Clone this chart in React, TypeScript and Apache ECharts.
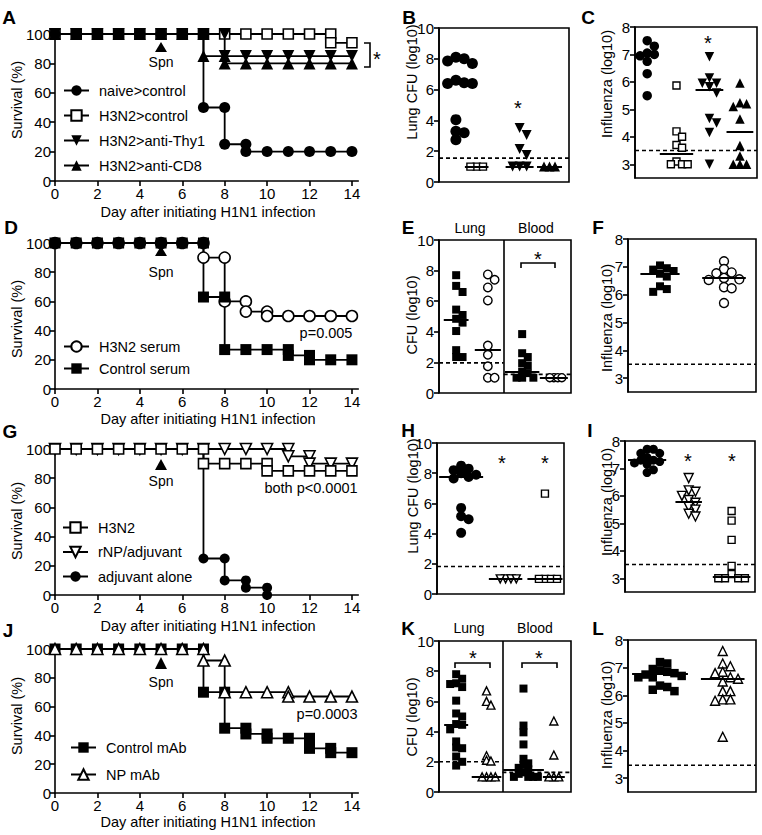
import React, { useEffect, useRef } from "react";
import * as echarts from "echarts";

const FONT = '"Liberation Sans", Arial, Helvetica, sans-serif';

// ---------------- tick values ----------------
const dayTicks = [0, 2, 4, 6, 8, 10, 12, 14];
const survivalTicks = [0, 20, 40, 60, 80, 100];
const cfuTicks = [0, 2, 4, 6, 8, 10];
const fluTicks = [3, 4, 5, 6, 7, 8];

// ---------------- survival curves: [day, % surviving] ----------------
const A_naiveControl = [[0,100],[1,100],[2,100],[3,100],[4,100],[5,100],[6,100],[7,100],[7,50],[8,50],[8,25],[9,25],[9,20],[10,20],[11,20],[12,20],[13,20],[14,20]];
const A_h3n2Control = [[0,100],[1,100],[2,100],[3,100],[4,100],[5,100],[6,100],[7,100],[8,100],[9,100],[10,100],[11,100],[12,100],[13,100],[13,94],[14,94]];
const A_h3n2AntiThy1 = [[0,100],[1,100],[2,100],[3,100],[4,100],[5,100],[6,100],[7,100],[8,100],[8,85],[9,85],[10,85],[11,85],[12,85],[13,85],[14,85]];
const A_h3n2AntiCD8 = [[0,100],[1,100],[2,100],[3,100],[4,100],[5,100],[6,100],[7,100],[7,85],[8,85],[8,80],[9,80],[10,80],[11,80],[12,80],[13,80],[14,80]];

const D_h3n2Serum = [[0,100],[1,100],[2,100],[3,100],[4,100],[5,100],[6,100],[7,100],[7,90],[8,90],[8,60],[9,60],[9,53],[10,53],[10,50],[11,50],[12,50],[13,50],[14,50]];
const D_controlSerum = [[0,100],[1,100],[2,100],[3,100],[4,100],[5,100],[6,100],[7,100],[7,63],[8,63],[8,27],[9,27],[10,27],[11,27],[11,23],[12,23],[12,20],[13,20],[14,20]];

const G_h3n2 = [[0,100],[1,100],[2,100],[3,100],[4,100],[5,100],[6,100],[7,100],[7,90],[8,90],[9,90],[10,90],[10,85],[11,85],[12,85],[13,85],[14,85]];
const G_rnpAdjuvant = [[0,100],[1,100],[2,100],[3,100],[4,100],[5,100],[6,100],[7,100],[8,100],[9,100],[10,100],[11,100],[11,95],[12,95],[12,90],[13,90],[14,90]];
const G_adjuvantAlone = [[0,100],[1,100],[2,100],[3,100],[4,100],[5,100],[6,100],[7,100],[7,25],[8,25],[8,10],[9,10],[9,5],[10,5],[10,0]];

const J_controlMAb = [[0,100],[1,100],[2,100],[3,100],[4,100],[5,100],[6,100],[7,100],[7,70],[8,70],[8,45],[9,45],[9,41],[10,41],[10,38],[11,38],[12,38],[12,31],[13,31],[13,28],[14,28]];
const J_npMAb = [[0,100],[1,100],[2,100],[3,100],[4,100],[5,100],[6,100],[7,100],[7,92],[8,92],[8,70],[9,70],[10,70],[11,70],[11,67],[12,67],[13,67],[14,67]];

// ---------------- dot plots (log10 values) ----------------
const B_naiveControl = [8.1, 8.0, 7.85, 7.7, 6.6, 6.45, 6.4, 6.4, 4.05, 3.3, 3.2, 2.75];
const B_h3n2Control = [1, 1, 1];
const B_h3n2AntiThy1 = [3.5, 3.05, 2.15, 1.75, 1, 1, 1];
const B_h3n2AntiCD8 = [1, 1, 1];
const B_medians = [6.45, 1, 1, 1];
const B_limit = [1.55];

const C_naiveControl = [7.5, 7.3, 7.05, 7.0, 6.95, 6.75, 6.3, 5.5];
const C_h3n2Control = [5.87, 4.2, 4.0, 3.7, 3.6, 3.1, 3.0, 3.0, 3.0];
const C_h3n2AntiThy1 = [6.92, 6.14, 5.95, 5.95, 5.82, 5.6, 4.67, 4.5, 4.16, 3.0];
const C_h3n2AntiCD8 = [5.96, 5.24, 5.2, 5.1, 4.65, 3.68, 3.3, 3.0, 3.0, 3.0];
const C_medians = [6.95, 3.38, 5.7, 4.18];
const C_limit = [3.5];

const E_lungControl = [7.7, 7.0, 6.6, 5.45, 5.1, 4.85, 4.6, 4.05, 2.8, 2.35, 2.35];
const E_lungH3N2 = [7.75, 7.4, 6.9, 6.05, 3.1, 2.5, 1.75, 1.0, 1.0];
const E_bloodControl = [3.85, 2.6, 2.35, 1.95, 1.8, 1.4, 1.3, 1.0, 1.0, 1.0];
const E_bloodH3N2 = [1, 1, 1, 1];
const E_medians = [4.82, 2.8, 1.39, 1.0];
const E_limits = [1.97, 1.22];

const F_control = [7.05, 6.95, 6.9, 6.85, 6.75, 6.65, 6.3, 6.2, 6.1];
const F_h3n2 = [7.2, 6.92, 6.8, 6.77, 6.6, 6.55, 6.53, 6.27, 6.23, 5.7];
const F_medians = [6.75, 6.59];
const F_limit = [3.5];

const H_adjuvantAlone = [8.5, 8.3, 8.2, 8.0, 7.9, 7.75, 7.65, 5.7, 5.15, 4.95, 4.05];
const H_rnpAdjuvant = [1, 1, 1, 1];
const H_h3n2 = [6.65, 1, 1, 1, 1];
const H_medians = [7.76, 1, 1];
const H_limit = [1.82];

const I_adjuvantAlone = [7.7, 7.7, 7.55, 7.55, 7.4, 7.3, 7.3, 7.25, 7.2, 7.15, 6.95, 6.85];
const I_rnpAdjuvant = [6.65, 6.2, 6.15, 6.0, 5.85, 5.75, 5.6, 5.5, 5.35, 5.25];
const I_h3n2 = [5.45, 5.1, 4.4, 3.45, 3.15, 3.0, 3.0, 3.0, 3.0];
const I_medians = [7.3, 5.78, 3.05];
const I_limit = [3.5];

const K_lungControl = [7.8, 7.5, 7.2, 7.15, 6.95, 6.05, 5.2, 5.0, 4.5, 4.45, 4.15, 3.35, 2.95, 2.9, 2.35, 2.0, 1.75];
const K_lungNP = [6.7, 6.0, 5.75, 2.4, 2.1, 2.05, 1, 1, 1, 1];
const K_bloodControl = [6.85, 4.4, 3.95, 3.15, 2.2, 1.9, 1.8, 1.6, 1.5, 1.3, 1.2, 1.0, 1.0, 1.0, 1.0];
const K_bloodNP = [4.7, 2.45, 1, 1, 1];
const K_medians = [4.48, 1.0, 1.5, 1.0];
const K_limits = [2.0, 1.3];

const L_control = [7.2, 7.15, 6.95, 6.9, 6.85, 6.8, 6.75, 6.7, 6.65, 6.65, 6.35, 6.3, 6.2, 6.15];
const L_np = [7.6, 7.15, 7.05, 6.85, 6.8, 6.65, 6.6, 6.5, 6.15, 6.15, 5.85, 5.85, 5.8, 4.5];
const L_medians = [6.77, 6.58];
const L_limit = [3.47];

// ---------------- layout ----------------
const boxes = [
  { left: 55, top: 34, width: 303.3, height: 147 },  // A
  { left: 439, top: 28, width: 130, height: 154 },   // B
  { left: 635, top: 27, width: 122, height: 151 },   // C
  { left: 55, top: 243, width: 303.3, height: 146 }, // D
  { left: 439, top: 240, width: 132, height: 153 },  // E
  { left: 628, top: 239, width: 128, height: 153 },  // F
  { left: 55, top: 449, width: 303.3, height: 146 }, // G
  { left: 437, top: 443, width: 127, height: 151 },  // H
  { left: 625, top: 441, width: 130, height: 151 },  // I
  { left: 55, top: 649, width: 303.3, height: 144 }, // J
  { left: 439, top: 641, width: 132, height: 151 },  // K
  { left: 628, top: 640, width: 128, height: 152 },  // L
];
const SURV = [0, 3, 6, 9];

const BLACK = "#000";
const WHITE = "#fff";

function swarm(values, center, w, h, yMin, yMax, size, stepF) {
  const placed = [];
  const res = new Array(values.length);
  const order = values.map((_, i) => i).sort((a, b) => values[b] - values[a]);
  const step = size * stepF;
  let half = 0;
  for (const i of order) {
    const py = ((values[i] - yMin) / (yMax - yMin)) * h;
    let px = 0;
    for (let k = 0; k < 60; k++) {
      const off = k === 0 ? 0 : (k % 2 === 1 ? 1 : -1) * Math.ceil(k / 2) * step;
      if (placed.every(([qx, qy]) => Math.hypot(qx - off, qy - py) >= step - 0.01)) {
        px = off;
        break;
      }
    }
    placed.push([px, py]);
    half = Math.max(half, Math.abs(px));
    res[i] = [center + px / w, values[i]];
  }
  return { points: res, half: half + size / 2 };
}

function buildOption() {
  const grid = boxes.map((b, i) => ({
    ...b,
    show: !SURV.includes(i),
    borderColor: BLACK,
    borderWidth: 1.6,
    backgroundColor: "transparent",
    containLabel: false,
  }));

  const axLine = { show: true, onZero: false, lineStyle: { color: BLACK, width: 1.6 } };
  const tick = (vals) => ({ show: true, inside: false, length: 5, lineStyle: { color: BLACK, width: 1.6 }, customValues: vals });
  const label = (vals, margin) => ({ show: true, color: BLACK, fontSize: 15, fontFamily: FONT, margin, customValues: vals });

  const xAxis = boxes.map((_, i) =>
    SURV.includes(i)
      ? { gridIndex: i, type: "value", min: 0, max: 14.3, axisLine: axLine, axisTick: tick(dayTicks), axisLabel: label(dayTicks, 5), splitLine: { show: false } }
      : { gridIndex: i, type: "value", min: 0, max: 1, show: false, splitLine: { show: false } }
  );

  const fluGrids = [2, 5, 8, 11];
  const yAxis = boxes.map((_, i) => {
    if (SURV.includes(i))
      return { gridIndex: i, type: "value", min: 0, max: 100, axisLine: axLine, axisTick: tick(survivalTicks), axisLabel: label(survivalTicks, 4), splitLine: { show: false } };
    if (fluGrids.includes(i))
      return { gridIndex: i, type: "value", min: 2.5, max: 8, axisLine: axLine, axisTick: tick(fluTicks), axisLabel: label(fluTicks, 5), splitLine: { show: false } };
    return { gridIndex: i, type: "value", min: 0, max: 10, axisLine: axLine, axisTick: tick(cfuTicks), axisLabel: label(cfuTicks, 5), splitLine: { show: false } };
  });

  const series = [];

  const surv = (name, data, g, symbol, open, size, rotate = 0) => ({
    type: "line",
    name,
    xAxisIndex: g,
    yAxisIndex: g,
    data,
    symbol,
    symbolSize: size,
    symbolRotate: rotate,
    showSymbol: true,
    silent: true,
    lineStyle: { color: BLACK, width: 1.8 },
    itemStyle: { color: open ? WHITE : BLACK, borderColor: BLACK, borderWidth: open ? 1.6 : 0 },
    emphasis: { disabled: true },
  });

  // A
  series.push(surv("H3N2>control", A_h3n2Control, 0, "rect", true, 10));
  series.push(surv("naive>control", A_naiveControl, 0, "circle", false, 11));
  series.push(surv("H3N2>anti-CD8", A_h3n2AntiCD8, 0, "triangle", false, 12));
  series.push(surv("H3N2>anti-Thy1", A_h3n2AntiThy1, 0, "triangle", false, 12, 180));
  // D
  series.push(surv("H3N2 serum", D_h3n2Serum, 3, "circle", true, 11));
  series.push(surv("Control serum", D_controlSerum, 3, "rect", false, 11));
  // G
  series.push(surv("adjuvant alone", G_adjuvantAlone, 6, "circle", false, 10));
  series.push(surv("rNP/adjuvant", G_rnpAdjuvant, 6, "triangle", true, 11, 180));
  series.push(surv("H3N2", G_h3n2, 6, "rect", true, 10));
  // J
  series.push(surv("Control mAb", J_controlMAb, 9, "rect", false, 11));
  series.push(surv("NP mAb", J_npMAb, 9, "triangle", true, 11));

  const dotPanels = [
    { grid: 1, yMin: 0, yMax: 10, groups: [
      { id: "B1", values: B_naiveControl, median: B_medians[0], center: 0.13, sym: "circle", open: false, size: 11, step: 0.75 },
      { id: "B2", values: B_h3n2Control, median: B_medians[1], center: 0.29, sym: "rect", open: true, size: 7, step: 0.9 },
      { id: "B3", values: B_h3n2AntiThy1, median: B_medians[2], center: 0.62, sym: "triangle", rot: 180, open: false, size: 10, step: 0.7 },
      { id: "B4", values: B_h3n2AntiCD8, median: B_medians[3], center: 0.85, sym: "triangle", open: false, size: 10, step: 0.55 },
    ], limits: [{ from: 0, to: 1, value: B_limit[0] }] },
    { grid: 2, yMin: 2.5, yMax: 8, groups: [
      { id: "C1", values: C_naiveControl, median: C_medians[0], center: 0.1, sym: "circle", open: false, size: 9.5, step: 0.75 },
      { id: "C2", values: C_h3n2Control, median: C_medians[1], center: 0.34, sym: "rect", open: true, size: 7, step: 0.8 },
      { id: "C3", values: C_h3n2AntiThy1, median: C_medians[2], center: 0.61, sym: "triangle", rot: 180, open: false, size: 9.5, step: 0.75 },
      { id: "C4", values: C_h3n2AntiCD8, median: C_medians[3], center: 0.86, sym: "triangle", open: false, size: 9.5, step: 0.7 },
    ], limits: [{ from: 0, to: 1, value: C_limit[0] }] },
    { grid: 4, yMin: 0, yMax: 10, groups: [
      { id: "E1", values: E_lungControl, median: E_medians[0], center: 0.13, sym: "rect", open: false, size: 8, step: 0.8 },
      { id: "E2", values: E_lungH3N2, median: E_medians[1], center: 0.37, sym: "circle", open: true, size: 8.5, step: 0.8 },
      { id: "E3", values: E_bloodControl, median: E_medians[2], center: 0.63, sym: "rect", open: false, size: 8, step: 0.7 },
      { id: "E4", values: E_bloodH3N2, median: E_medians[3], center: 0.87, sym: "circle", open: true, size: 8, step: 0.5 },
    ], limits: [{ from: 0, to: 0.49, value: E_limits[0] }, { from: 0.49, to: 1, value: E_limits[1] }] },
    { grid: 5, yMin: 2.5, yMax: 8, groups: [
      { id: "F1", values: F_control, median: F_medians[0], center: 0.25, sym: "rect", open: false, size: 8, step: 0.85 },
      { id: "F2", values: F_h3n2, median: F_medians[1], center: 0.75, sym: "circle", open: true, size: 9, step: 0.85 },
    ], limits: [{ from: 0, to: 1, value: F_limit[0] }] },
    { grid: 7, yMin: 0, yMax: 10, groups: [
      { id: "H1", values: H_adjuvantAlone, median: H_medians[0], center: 0.19, sym: "circle", open: false, size: 10, step: 0.75 },
      { id: "H2", values: H_rnpAdjuvant, median: H_medians[1], center: 0.54, sym: "triangle", rot: 180, open: true, size: 8, step: 0.67 },
      { id: "H3", values: H_h3n2, median: H_medians[2], center: 0.85, sym: "rect", open: true, size: 7, step: 0.86 },
    ], limits: [{ from: 0, to: 1, value: H_limit[0] }] },
    { grid: 8, yMin: 2.5, yMax: 8, groups: [
      { id: "I1", values: I_adjuvantAlone, median: I_medians[0], center: 0.17, sym: "circle", open: false, size: 9, step: 0.7 },
      { id: "I2", values: I_rnpAdjuvant, median: I_medians[1], center: 0.49, sym: "triangle", rot: 180, open: true, size: 9, step: 0.75 },
      { id: "I3", values: I_h3n2, median: I_medians[2], center: 0.82, sym: "rect", open: true, size: 7, step: 0.95 },
    ], limits: [{ from: 0, to: 1, value: I_limit[0] }] },
    { grid: 10, yMin: 0, yMax: 10, groups: [
      { id: "K1", values: K_lungControl, median: K_medians[0], center: 0.13, sym: "rect", open: false, size: 8, step: 0.75 },
      { id: "K2", values: K_lungNP, median: K_medians[1], center: 0.36, sym: "triangle", open: true, size: 8, step: 0.55 },
      { id: "K3", values: K_bloodControl, median: K_medians[2], center: 0.64, sym: "rect", open: false, size: 8, step: 0.6 },
      { id: "K4", values: K_bloodNP, median: K_medians[3], center: 0.87, sym: "triangle", open: true, size: 8, step: 0.62 },
    ], limits: [{ from: 0, to: 0.48, value: K_limits[0] }, { from: 0.48, to: 1, value: K_limits[1] }] },
    { grid: 11, yMin: 2.5, yMax: 8, groups: [
      { id: "L1", values: L_control, median: L_medians[0], center: 0.25, sym: "rect", open: false, size: 8.5, step: 0.85 },
      { id: "L2", values: L_np, median: L_medians[1], center: 0.74, sym: "triangle", open: true, size: 9, step: 0.85 },
    ], limits: [{ from: 0, to: 1, value: L_limit[0] }] },
  ];

  for (const p of dotPanels) {
    const b = boxes[p.grid];
    for (const lim of p.limits) {
      series.push({
        type: "line",
        name: "limit-" + p.grid + "-" + lim.from,
        xAxisIndex: p.grid,
        yAxisIndex: p.grid,
        data: [[lim.from, lim.value], [lim.to, lim.value]],
        symbol: "none",
        silent: true,
        lineStyle: { color: BLACK, width: 1.6, type: [4, 3] },
        z: 1,
      });
    }
    for (const g of p.groups) {
      const sw = swarm(g.values, g.center, b.width, b.height, p.yMin, p.yMax, g.size, g.step);
      const halfW = Math.max(sw.half + 2, 10) / b.width;
      series.push({
        type: "scatter",
        name: g.id,
        xAxisIndex: p.grid,
        yAxisIndex: p.grid,
        data: sw.points,
        symbol: g.sym,
        symbolSize: g.size,
        symbolRotate: g.rot || 0,
        silent: true,
        itemStyle: { color: g.open ? WHITE : BLACK, borderColor: BLACK, borderWidth: g.open ? 1.4 : 0, opacity: 1 },
        z: 2,
        markLine: {
          silent: true,
          symbol: ["none", "none"],
          label: { show: false },
          lineStyle: { color: BLACK, width: 2, type: "solid" },
          data: [[{ coord: [g.center - halfW, g.median] }, { coord: [g.center + halfW, g.median] }]],
          z: 6,
        },
      });
    }
  }

  const legendBase = {
    orient: "vertical",
    itemWidth: 25,
    itemHeight: 13,
    selectedMode: false,
    padding: 0,
    textStyle: { fontSize: 14.5, fontFamily: FONT, color: BLACK, padding: [0, 0, 0, 5] },
  };
  const legend = [
    { ...legendBase, data: ["naive>control", "H3N2>control", "H3N2>anti-Thy1", "H3N2>anti-CD8"], left: 63, top: 83, itemGap: 10 },
    { ...legendBase, data: ["H3N2 serum", "Control serum"], left: 63, top: 339, itemGap: 7 },
    { ...legendBase, data: ["H3N2", "rNP/adjuvant", "adjuvant alone"], left: 62, top: 520, itemGap: 9.5 },
    { ...legendBase, data: ["Control mAb", "NP mAb"], left: 70, top: 740, itemGap: 12 },
  ];

  const txt = (text, x, y, opts = {}) => ({
    type: "text",
    x,
    y,
    silent: true,
    z: 10,
    style: { text, fontSize: 14, fontFamily: FONT, fill: BLACK, align: "center", verticalAlign: "middle", ...opts },
  });
  const vtxt = (text, x, y) => ({ ...txt(text, x, y, { fontSize: 14.5 }), rotation: Math.PI / 2 });
  const star = (x, y) => txt("*", x, y + 6, { fontSize: 20 });
  const arrow = (x, yTop, yBase) => ({
    type: "polygon",
    silent: true,
    z: 10,
    shape: { points: [[x, yTop], [x - 6, yBase], [x + 6, yBase]] },
    style: { fill: BLACK },
  });
  const pline = (pts) => ({
    type: "polyline",
    silent: true,
    z: 10,
    shape: { points: pts },
    style: { stroke: BLACK, lineWidth: 1.6, fill: null },
  });

  const graphic = [
    // panel letters
    ...[["A", 9, 17], ["B", 409, 17], ["C", 588, 17], ["D", 11, 227], ["E", 408, 227], ["F", 598, 227],
        ["G", 10, 431], ["H", 408, 430], ["I", 590, 430], ["J", 8, 630], ["K", 408, 628], ["L", 598, 628]]
      .map(([t, x, y]) => txt(t, x, y, { fontSize: 19, fontWeight: "bold" })),
    // x axis titles
    ...[212, 419, 626, 822].map((y) => txt("Day after initiating H1N1 infection", 208, y, { fontSize: 14.5 })),
    // survival y titles
    ...[100, 319, 521, 716].map((y) => vtxt("Survival (%)", 17, y)),
    // dot plot y titles
    vtxt("Lung CFU (log10)", 412, 82),
    vtxt("Influenza (log10)", 607, 84),
    vtxt("CFU (log10)", 412, 315),
    vtxt("Influenza (log10)", 607, 318),
    vtxt("Lung CFU (log10)", 413, 496),
    vtxt("Influenza (log10)", 607, 502),
    vtxt("CFU (log10)", 412, 717),
    vtxt("Influenza (log10)", 607, 715),
    // Lung / Blood headers
    txt("Lung", 470, 228), txt("Blood", 536, 228),
    txt("Lung", 469, 628), txt("Blood", 535, 628),
    // p values
    txt("p=0.005", 326, 333, { fontSize: 14.5 }),
    txt("both p<0.0001", 311, 488, { fontSize: 14.5 }),
    txt("p=0.0003", 327, 714, { fontSize: 14.5 }),
    // Spn arrows
    arrow(161, 42, 52), txt("Spn", 161, 62),
    arrow(161, 246, 256), txt("Spn", 161, 272),
    arrow(161, 459, 470), txt("Spn", 161, 481),
    arrow(161, 657, 669), txt("Spn", 161, 682),
    // brackets
    pline([[364, 43], [370, 43], [370, 67], [364, 67]]),
    pline([[521, 268], [521, 263], [555, 263], [555, 268]]),
    pline([[455, 668], [455, 663], [490, 663], [490, 668]]),
    pline([[522, 668], [522, 663], [557, 663], [557, 668]]),
    // dividers
    { type: "line", silent: true, z: 10, shape: { x1: 504, y1: 240, x2: 504, y2: 393 }, style: { stroke: BLACK, lineWidth: 1.6 } },
    { type: "line", silent: true, z: 10, shape: { x1: 503, y1: 641, x2: 503, y2: 792 }, style: { stroke: BLACK, lineWidth: 1.6 } },
    // stars
    star(377, 53),
    star(518, 102),
    star(708, 37),
    star(538, 253),
    star(502, 457), star(545, 457),
    star(688, 455), star(732, 455),
    star(473, 652), star(539, 652),
  ];

  return {
    animation: false,
    backgroundColor: WHITE,
    textStyle: { fontFamily: FONT },
    grid,
    xAxis,
    yAxis,
    legend,
    series,
    graphic,
  };
}

export default function App() {
  const ref = useRef(null);
  useEffect(() => {
    const chart = echarts.init(ref.current, null, { renderer: "svg" });
    chart.setOption(buildOption());
    return () => chart.dispose();
  }, []);
  return (
    <div
      ref={ref}
      style={{ position: "absolute", left: 0, top: 0, width: 762, height: 835, background: "#fff" }}
    />
  );
}
